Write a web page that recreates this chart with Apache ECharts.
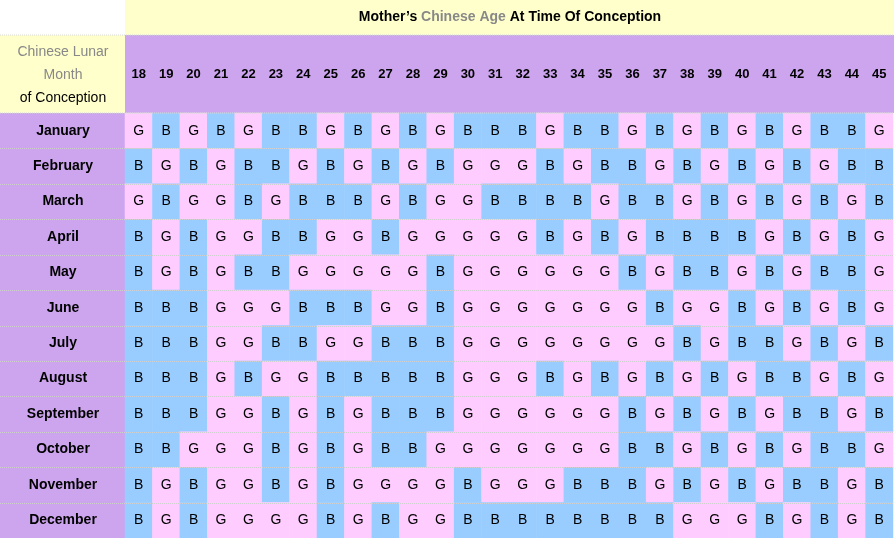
<!DOCTYPE html>
<html>
<head>
<meta charset="utf-8">
<script src="https://cdn.jsdelivr.net/npm/echarts@6/dist/echarts.min.js"></script>
<style>
  html, body { margin: 0; padding: 0; background: #fff; }
  #chart { width: 894px; height: 538px; }
</style>
</head>
<body>
<div id="chart"></div>
<script>
// mother's chinese age (columns)
const ages = ['18','19','20','21','22','23','24','25','26','27','28','29','30','31','32','33','34','35','36','37','38','39','40','41','42','43','44','45'];
// lunar month of conception (rows)
const months = ['January','February','March','April','May','June','July','August','September','October','November','December'];
// predicted gender per month, one letter per age
const genders = [
  'GBGBGBBGBGBGBBBGBBGBGBGBGBBG',
  'BGBGBBGBGBGBGGGBGBBGBGBGBGBB',
  'GBGGBGBBBGBGGBBBBGBBGBGBGBGB',
  'BGBGGBBGGBGGGGGBGBGBBBBGBGBG',
  'BGBGBBGGGGGBGGGGGGBGBBGBGBBG',
  'BBBGGGBBBGGBGGGGGGGBGGBGBGBG',
  'BBBGGBBGGBBBGGGGGGGGBGBBGBGB',
  'BBBGBGGBBBBBGGGBGBGBGBGBBGBG',
  'BBBGGBGBGBBBGGGGGGBGBGBGBBGB',
  'BBGGGBGBGBBGGGGGGGBBGBGBGBBG',
  'BGBGGBGBGGGGBGGGBBBGBGBGBBGB',
  'BGBGGGGBGBGGBBBBBBBBGGGBGBGB'
];

const PINK = '#ffccff', BLUE = '#99ccff', PURPLE = '#cda4ee', YELLOW = '#ffffcc';
const FONT = 'Arial, "Liberation Sans"';

const cells = [];
genders.forEach((row, y) => {
  row.split('').forEach((g, x) => cells.push([x, y, g === 'B' ? 1 : 0]));
});

const chart = echarts.init(document.getElementById('chart'), null, { renderer: 'canvas' });
chart.setOption({
  animation: false,
  backgroundColor: '#fff',
  grid: { left: 125, right: 1, top: 113, bottom: 0 },
  graphic: [
    { type: 'rect', z: -10, shape: { x: 125, y: 0, width: 769, height: 35 }, style: { fill: YELLOW } },
    { type: 'rect', z: -10, shape: { x: 0, y: 35, width: 125, height: 78 }, style: { fill: YELLOW } },
    { type: 'rect', z: -10, shape: { x: 125, y: 35, width: 769, height: 78 }, style: { fill: PURPLE } },
    { type: 'rect', z: -10, shape: { x: 0, y: 113, width: 125, height: 425 }, style: { fill: PURPLE } },
    { type: 'line', z: 10, shape: { x1: 0, y1: 35, x2: 894, y2: 35 }, style: { stroke: '#d8d8d8', lineDash: [1, 1] } },
    { type: 'line', z: 10, shape: { x1: 0, y1: 113, x2: 894, y2: 113 }, style: { stroke: '#d8d8d8', lineDash: [1, 1] } },
    {
      type: 'text', z: 20,
      style: {
        x: 510, y: 10, align: 'center',
        text: "{b|Mother’s }{g|Chinese Age}{b| At Time Of Conception}",
        rich: {
          b: { fontWeight: 'bold', fontSize: 14, fontFamily: FONT, fill: '#000' },
          g: { fontWeight: 'bold', fontSize: 14, fontFamily: FONT, fill: '#888' }
        }
      }
    },
    {
      type: 'text', z: 20,
      style: {
        x: 63, y: 41, align: 'center',
        text: '{g|Chinese Lunar}\n{g|Month}\n{k|of Conception}',
        rich: {
          g: { fontSize: 14, fontFamily: FONT, fill: '#888', lineHeight: 23, align: 'center' },
          k: { fontSize: 14, fontFamily: FONT, fill: '#000', lineHeight: 23, align: 'center' }
        }
      }
    }
  ],
  xAxis: {
    type: 'category', data: ages, position: 'top',
    axisLine: { show: false }, axisTick: { show: false }, splitLine: { show: false },
    axisLabel: { margin: 32, color: '#000', fontWeight: 'bold', fontSize: 13, fontFamily: FONT, interval: 0 }
  },
  yAxis: {
    type: 'category', data: months, inverse: true,
    axisLine: { show: false }, axisTick: { show: false }, splitLine: { show: false },
    axisLabel: { margin: 62, align: 'center', color: '#000', fontWeight: 'bold', fontSize: 14, fontFamily: FONT }
  },
  series: [{
    type: 'heatmap',
    data: cells,
    itemStyle: { color: p => p.value[2] ? BLUE : PINK },
    label: {
      show: true, color: '#000', fontSize: 14, fontFamily: FONT,
      formatter: p => p.value[2] ? 'B' : 'G'
    }
  }]
});

// dotted row separators at the category boundaries
const seps = months.slice(1).map((m, i) => {
  const a = chart.convertToPixel({ yAxisIndex: 0 }, i);
  const b = chart.convertToPixel({ yAxisIndex: 0 }, i + 1);
  const y = Math.round((a + b) / 2) + 0.5;
  return { type: 'line', z: 30, shape: { x1: 0, y1: y, x2: 894, y2: y }, style: { stroke: '#d0d0d0', lineDash: [1, 1], lineWidth: 1 } };
});
chart.setOption({ graphic: chart.getOption().graphic[0].elements.concat(seps) });
</script>
</body>
</html>
